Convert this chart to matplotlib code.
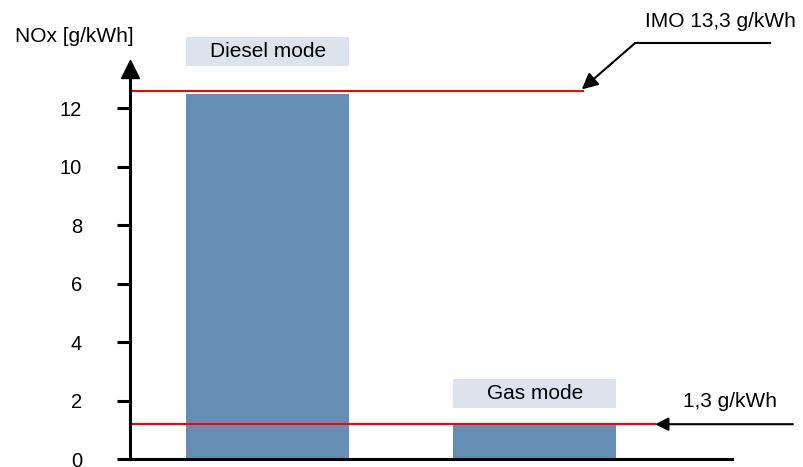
import matplotlib
matplotlib.use("Agg")
import matplotlib.pyplot as plt
from matplotlib.patches import Rectangle

plt.rcParams['font.family'] = ['Liberation Sans', 'DejaVu Sans']

# ---- data ----
modes = ["Diesel mode", "Gas mode"]
nox_values = [12.5, 1.2]                 # g/kWh (bar heights as drawn)
limit_values = [12.6, 1.2]               # red limit lines as drawn
limit_labels = ["IMO 13,3 g/kWh", "1,3 g/kWh"]
yticks = [0, 2, 4, 6, 8, 10, 12]
ylabel = "NOx [g/kWh]"

# ---- style ----
bar_color = "#658eb4"
box_color = "#dce3ed"
W, H, DPI = 804, 467, 100

fig = plt.figure(figsize=(W / DPI, H / DPI), dpi=DPI)
ax_left, ax_right = 130, 731.7
ax_bottom, ax_top = 459.3, 61
ax = fig.add_axes([ax_left / W, (H - ax_bottom) / H,
                   (ax_right - ax_left) / W, (ax_bottom - ax_top) / H])

x = [0, 1]
bar_w = 0.61
ax.bar(x, nox_values, width=bar_w, color=bar_color, zorder=2)

ax.set_xlim(-0.515, 1.737)
ax.set_ylim(0, 13.62)

for s in ["top", "right"]:
    ax.spines[s].set_visible(False)
for s in ["left", "bottom"]:
    ax.spines[s].set_linewidth(2.2)
    ax.spines[s].set_zorder(5)
ax.spines["left"].set_bounds(0, 13.1)
ax.plot([-0.515], [13.33], marker="^", markersize=12.5, color="black",
        clip_on=False, zorder=6)

ax.set_xticks([])
ax.set_yticks(yticks)
ax.set_yticklabels([str(t) for t in yticks], fontsize=14.5)
ax.tick_params(axis="y", direction="out", length=9.4, width=2.2, pad=25)

# red limit lines
line_ends = [1.18, 1.45]
for v, xe in zip(limit_values, line_ends):
    ax.plot([-0.515, xe], [v, v], color="#ff0000", lw=1.5, zorder=4,
            clip_on=False)

# mode label boxes
box_y = [(13.46, 14.44), (1.76, 2.73)]
for xi, name, (b0, b1) in zip(x, modes, box_y):
    ax.add_patch(Rectangle((xi - bar_w / 2, b0), bar_w, b1 - b0,
                           facecolor=box_color, edgecolor="none",
                           clip_on=False, zorder=3))
    ax.text(xi, (b0 + b1) / 2, name, ha="center", va="center",
            fontsize=15, zorder=4, clip_on=False)

# IMO annotation
ax.plot([1.88, 1.375], [14.23, 14.23], color="black", lw=1.5, clip_on=False)
ax.annotate("", xy=(1.176, limit_values[0] + 0.05), xytext=(1.375, 14.23),
            arrowprops=dict(arrowstyle="-|>", color="black", lw=1.5,
                            mutation_scale=24, shrinkA=0, shrinkB=0),
            annotation_clip=False)
ax.text(1.413, 14.96, limit_labels[0], ha="left", va="center", fontsize=15,
        clip_on=False)

# gas limit annotation
ax.annotate("", xy=(1.45, limit_values[1]), xytext=(1.966, limit_values[1]),
            arrowprops=dict(arrowstyle="-|>", color="black", lw=1.5,
                            mutation_scale=20, shrinkA=0, shrinkB=0),
            annotation_clip=False)
ax.text(1.555, 1.96, limit_labels[1], ha="left", va="center", fontsize=15,
        clip_on=False)

fig.text(15 / W, 1 - 36.7 / H, ylabel, ha="left", va="center", fontsize=15)

fig.savefig("out.png", dpi=DPI)
